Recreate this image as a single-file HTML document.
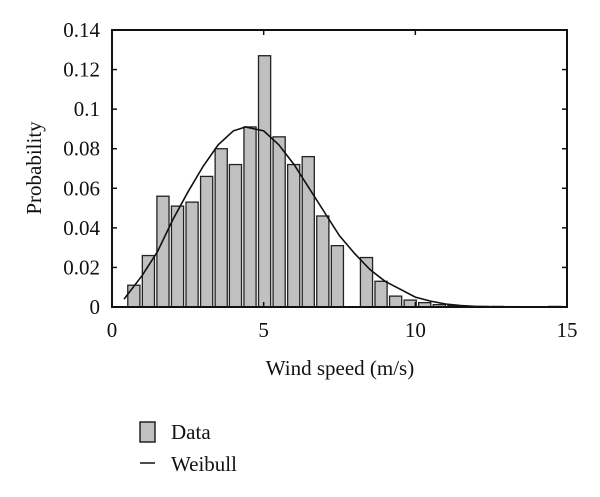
<!DOCTYPE html>
<html><head><meta charset="utf-8"><style>
body{margin:0;background:#fff;}
svg text{font-family:"Liberation Serif",serif;fill:#111;}
</style></head><body>
<svg id="chart" width="600" height="492" viewBox="0 0 600 492" xmlns="http://www.w3.org/2000/svg">
<g id="bars"></g>
<g id="curve"></g>
<g id="axes"></g>
<text x="0" y="0" font-size="21" text-anchor="middle" transform="translate(41,168) rotate(-90)">Probability</text>
<text x="340" y="375" font-size="21" text-anchor="middle">Wind speed (m/s)</text>
<g>
<rect x="140" y="422" width="15" height="20" fill="#c0c0c0" stroke="#222" stroke-width="1.5"/>
<text x="171" y="439" font-size="21">Data</text>
<line x1="140" y1="463" x2="155" y2="463" stroke="#111" stroke-width="1.5"/>
<text x="171" y="471" font-size="21">Weibull</text>
</g>
</svg>
<script>
const binCenters=[0.72,1.2,1.68,2.16,2.64,3.12,3.6,4.07,4.55,5.03,5.51,5.99,6.47,6.95,7.43,7.91,8.39,8.87,9.35,9.83,10.31,10.79,11.27,11.75,12.23,12.71,13.19,14.6];
const binValues=[0.011,0.026,0.056,0.051,0.053,0.066,0.080,0.072,0.091,0.127,0.086,0.072,0.076,0.046,0.031,0,0.025,0.013,0.0055,0.0035,0.0022,0.0012,0.0007,0.0004,0.0003,0.0003,0.0002,0.0003];
const curveX=[0.4,1,1.5,2,2.5,3,3.5,4,4.4,5,5.5,6,6.5,7,7.5,8,8.5,9,9.5,10,10.5,11,11.5,12,12.5,13,14,15];
const curveY=[0.004,0.016,0.028,0.044,0.058,0.071,0.082,0.089,0.091,0.089,0.082,0.072,0.060,0.048,0.036,0.027,0.019,0.013,0.009,0.005,0.003,0.0015,0.0007,0.0003,0.0001,0,0,0];
const xTicks=[0,5,10,15];
const xTickLabels=["0","5","10","15"];
const yTicks=[0,0.02,0.04,0.06,0.08,0.1,0.12,0.14];
const yTickLabels=["0","0.02","0.04","0.06","0.08","0.1","0.12","0.14"];
const L=112,R=567,T=30,B=307,xMax=15,yMax=0.14,binW=0.4;
const xs=v=>L+(v/xMax)*(R-L), ys=v=>B-(v/yMax)*(B-T);
const NS="http://www.w3.org/2000/svg";
function mk(t,a,p){const e=document.createElementNS(NS,t);for(const k in a)e.setAttribute(k,a[k]);p.appendChild(e);return e;}
const bars=document.getElementById('bars');
binCenters.forEach((c,i)=>{const v=binValues[i];if(v<=0)return;
const r=mk('rect',{x:xs(c-binW/2),y:ys(v),width:xs(c+binW/2)-xs(c-binW/2),height:B-ys(v),fill:'#c0c0c0',stroke:'#222','stroke-width':1.3},bars);

});
const cg=document.getElementById('curve');
const p=mk('path',{d:curveX.map((x,i)=>(i?'L':'M')+xs(x).toFixed(1)+','+ys(curveY[i]).toFixed(1)).join(''),fill:'none',stroke:'#111','stroke-width':1.6},cg);


const ax=document.getElementById('axes');
const fr=mk('rect',{x:L,y:T,width:R-L,height:B-T,fill:'none',stroke:'#111','stroke-width':2},ax);


xTicks.forEach((t,i)=>{const x=xs(t);
mk('line',{x1:x,y1:B,x2:x,y2:B-5,stroke:'#111','stroke-width':1.5},ax);
mk('line',{x1:x,y1:T,x2:x,y2:T+5,stroke:'#111','stroke-width':1.5},ax);
const tx=mk('text',{x:x,y:B+30,'font-size':21,'text-anchor':'middle'},ax);tx.textContent=xTickLabels[i];

});
yTicks.forEach((t,i)=>{const y=ys(t);
mk('line',{x1:L,y1:y,x2:L+5,y2:y,stroke:'#111','stroke-width':1.5},ax);
mk('line',{x1:R,y1:y,x2:R-5,y2:y,stroke:'#111','stroke-width':1.5},ax);
const tx=mk('text',{x:L-12,y:y+7,'font-size':21,'text-anchor':'end'},ax);tx.textContent=yTickLabels[i];

});
</script>
</body></html>
